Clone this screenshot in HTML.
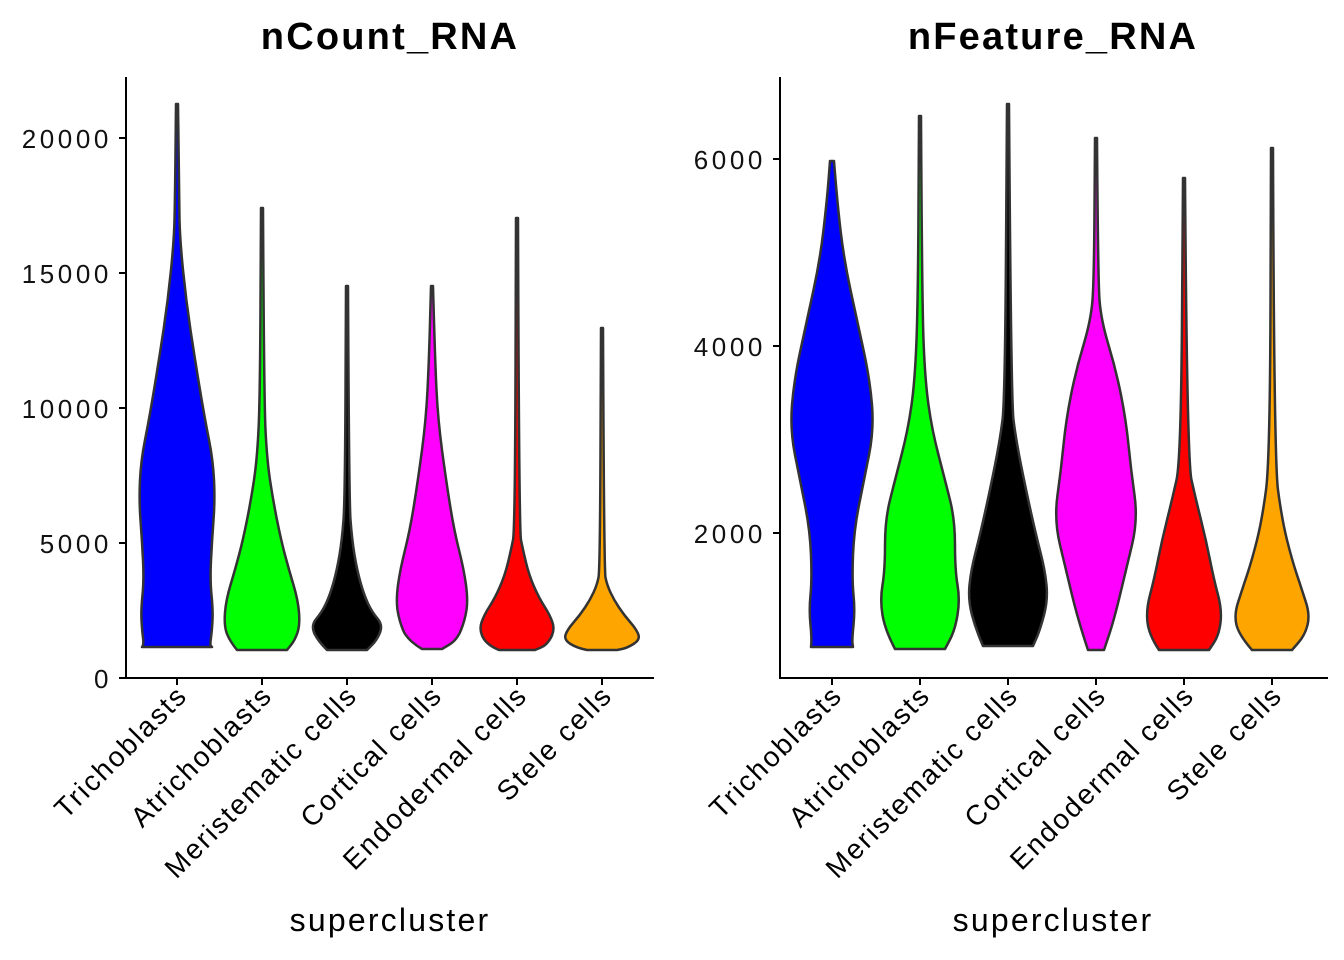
<!DOCTYPE html>
<html><head><meta charset="utf-8"><style>body{margin:0;background:#fff}svg{display:block}text{font-family:"Liberation Sans",Arial,sans-serif}</style></head>
<body>
<svg id="s" width="1344" height="960" xmlns="http://www.w3.org/2000/svg">
<text x="390" y="49" font-size="38" font-weight="bold" letter-spacing="2.2" text-anchor="middle">nCount_RNA</text>
<text x="1053" y="49" font-size="38" font-weight="bold" letter-spacing="2.2" text-anchor="middle">nFeature_RNA</text>
<line x1="126" y1="77" x2="126" y2="679" stroke="#000" stroke-width="2"/>
<line x1="125" y1="678" x2="654" y2="678" stroke="#000" stroke-width="2"/>
<line x1="780" y1="77" x2="780" y2="679" stroke="#000" stroke-width="2"/>
<line x1="779" y1="678" x2="1328" y2="678" stroke="#000" stroke-width="2"/>
<g font-size="26" letter-spacing="3.6" text-anchor="end" fill="#111">
<text x="112" y="688">0</text><text x="112" y="553">5000</text><text x="112" y="418">10000</text><text x="112" y="283">15000</text><text x="112" y="148">20000</text>
<text x="766" y="543">2000</text><text x="766" y="356">4000</text><text x="766" y="169">6000</text>
</g>
<g stroke="#000" stroke-width="2">
<line x1="119" y1="678" x2="126" y2="678"/><line x1="119" y1="543" x2="126" y2="543"/><line x1="119" y1="408" x2="126" y2="408"/><line x1="119" y1="273" x2="126" y2="273"/><line x1="119" y1="138" x2="126" y2="138"/>
<line x1="773" y1="533" x2="780" y2="533"/><line x1="773" y1="346" x2="780" y2="346"/><line x1="773" y1="159" x2="780" y2="159"/>
</g>
<text x="390" y="931" font-size="32" letter-spacing="2.2" text-anchor="middle">supercluster</text>
<text x="1053" y="931" font-size="32" letter-spacing="2.2" text-anchor="middle">supercluster</text>
<g id="v"></g>
</svg>
<script>
var names=["Trichoblasts","Atrichoblasts","Meristematic cells","Cortical cells","Endodermal cells","Stele cells"];
var cols=["#0000ff","#00ff00","#000000","#ff00ff","#ff0000","#ffa500"];
var L=[
[177,[[104,1],[200,2],[240,3],[300,9],[360,18],[420,28],[460,36],[500,38],[540,35],[580,33],[610,36],[630,35],[645,33],[647,35]]],
[262,[[208,1],[400,2],[460,5],[500,11],[540,19],[570,27],[600,36],[625,38],[640,33],[650,25]]],
[347,[[286,1],[500,2],[540,5],[570,10],[595,17],[612,25],[625,36],[640,30],[650,20]]],
[432,[[286,1],[360,3],[420,6],[480,14],[530,22],[570,32],[600,36],[620,33],[640,25],[649,10]]],
[517,[[218,1],[530,2],[550,6],[575,12],[598,22],[615,33],[630,38],[645,30],[650,18]]],
[602,[[328,1],[570,2],[585,5],[600,12],[615,22],[630,35],[640,38],[648,25],[650,15]]]];
var R=[
[832,[[161,2],[200,5],[260,12],[320,25],[380,38],[430,42],[480,32],[530,22],[580,20],[610,23],[640,20],[647,21]]],
[920,[[116,1],[300,2],[380,5],[430,12],[480,25],[520,35],[570,35],[600,40],[630,35],[649,25]]],
[1008,[[104,1],[400,3],[440,8],[490,18],[535,28],[570,37],[600,40],[630,32],[646,25]]],
[1096,[[138,1],[280,2],[320,5],[370,20],[420,30],[470,35],[520,42],[570,30],[620,18],[650,8]]],
[1184,[[178,1],[460,3],[500,12],[540,22],[580,30],[610,38],[635,35],[650,25]]],
[1272,[[148,1],[460,2],[520,10],[560,20],[590,30],[615,38],[635,33],[650,20]]]];
var g=document.getElementById('v'),h='';
function smooth(pts){var d='M'+pts[0][0]+','+pts[0][1];for(var i=1;i<pts.length-1;i++){var mx=(pts[i][0]+pts[i+1][0])/2,my=(pts[i][1]+pts[i+1][1])/2;d+=' Q'+pts[i][0]+','+pts[i][1]+' '+mx+','+my;}d+=' L'+pts[pts.length-1][0]+','+pts[pts.length-1][1];return d;}
function draw(set){set.forEach(function(v,i){var c=v[0],p=v[1];var right=p.map(function(q){return [c+q[1],q[0]]});var left=p.slice().reverse().map(function(q){return [c-q[1],q[0]]});
var d=smooth(right)+' L'+(c-p[p.length-1][1])+','+p[p.length-1][0];var l2=smooth(left);d+=l2.replace(/^M[^ ]+/,'')+' Z';
h+='<path d="'+d+'" fill="'+cols[i]+'" stroke="#333" stroke-width="2.5" stroke-linejoin="round"/>';
h+='<line x1="'+c+'" y1="678" x2="'+c+'" y2="685" stroke="#000" stroke-width="2"/>';
h+='<text x="'+(c+12)+'" y="697" font-size="28" letter-spacing="2" text-anchor="end" transform="rotate(-45 '+(c+12)+' 697)">'+names[i]+'</text>';});}
draw(L);draw(R);g.innerHTML=h;
</script>
</body></html>
